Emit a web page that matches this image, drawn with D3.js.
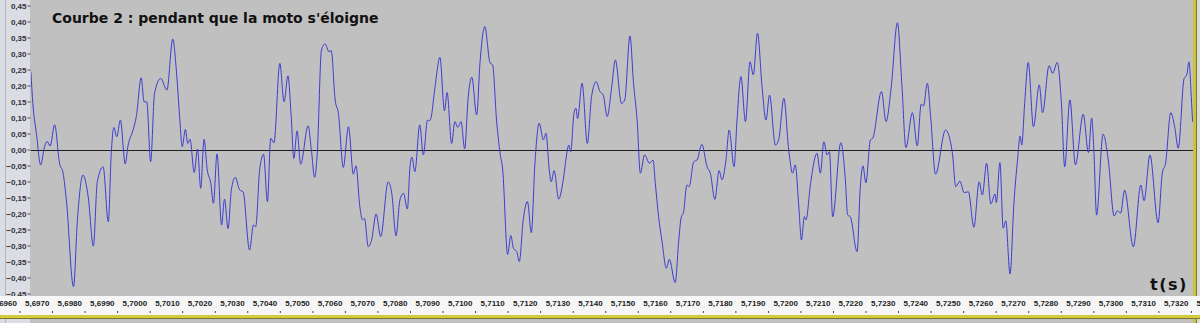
<!DOCTYPE html>
<html>
<head>
<meta charset="utf-8">
<script src="https://cdn.jsdelivr.net/npm/d3@7"></script>
<style>
  html, body { margin: 0; padding: 0; background: #c0c0c0; }
  svg { display: block; }
</style>
</head>
<body>
<svg width="1200" height="323"></svg>
<script>
// sample times (s) and amplitudes
let times = [
  5.69735,5.69741,5.69752,5.69765,5.69777,5.69785,5.69794,5.69808,5.69823,5.69834,
  5.69844,5.69866,5.69878,5.69895,5.69911,5.69927,5.69939,5.69957,5.69973,5.69982,
  5.69990,5.69999,5.70010,5.70025,5.70033,5.70049,5.70059,5.70074,5.70083,5.70091,
  5.70103,5.70115,5.70134,5.70153,5.70171,5.70182,5.70192,5.70200,5.70210,5.70217,
  5.70224,5.70237,5.70247,5.70257,5.70267,5.70277,5.70288,5.70296,5.70307,5.70321,
  5.70330,5.70341,5.70351,5.70363,5.70377,5.70387,5.70407,5.70419,5.70426,5.70438,
  5.70450,5.70462,5.70472,5.70482,5.70500,5.70513,5.70525,5.70535,5.70543,5.70553,
  5.70564,5.70587,5.70597,5.70607,5.70615,5.70628,5.70639,5.70651,5.70658,5.70670,
  5.70680,5.70695,5.70711,5.70726,5.70734,5.70746,5.70754,5.70760,5.70772,5.70782,
  5.70796,5.70810,5.70833,5.70844,5.70857,5.70869,5.70880,5.70892,5.70900,5.70906,
  5.70915,5.70930,5.70941,5.70954,5.70960,5.70964,5.70977,5.70992,5.71006,5.71014,
  5.71028,5.71038,5.71047,5.71057,5.71068,5.71079,5.71090,5.71105,5.71115,5.71130,
  5.71146,5.71154,5.71166,5.71177,5.71185,5.71200,5.71210,5.71218,5.71228,5.71236,
  5.71248,5.71261,5.71273,5.71284,5.71297,5.71310,5.71318,5.71328,5.71334,5.71343,
  5.71357,5.71371,5.71382,5.71388,5.71394,5.71404,5.71410,5.71415,5.71429,5.71445,
  5.71458,5.71472,5.71484,5.71494,5.71506,5.71520,5.71531,5.71550,5.71560,5.71576,
  5.71587,5.71598,5.71608,5.71621,5.71636,5.71647,5.71654,5.71664,5.71674,5.71688,
  5.71697,5.71715,5.71726,5.71733,5.71741,5.71751,5.71758,5.71772,5.71782,5.71797,
  5.71813,5.71823,5.71837,5.71850,5.71859,5.71871,5.71881,5.71896,5.71905,5.71917,
  5.71931,5.71945,5.71955,5.71968,5.71982,5.71994,5.72005,5.72023,5.72033,5.72049,
  5.72064,5.72076,5.72084,5.72095,5.72103,5.72112,5.72117,5.72131,5.72151,5.72161,
  5.72172,5.72182,5.72189,5.72199,5.72224,5.72238,5.72245,5.72253,5.72274,5.72284,
  5.72292,5.72301,5.72315,5.72322,5.72349,5.72363,5.72379,5.72398,5.72412,5.72424,
  5.72444,5.72459,5.72471,5.72478,5.72490,5.72500,5.72515,5.72546,5.72567,5.72577,
  5.72590,5.72603,5.72616,5.72633,5.72649,5.72659,5.72672,5.72685,5.72698,5.72702,
  5.72713,5.72723,5.72731,5.72744,5.72756,5.72767,5.72775,5.72780,5.72789,5.72800,
  5.72816,5.72834,5.72844,5.72864,5.72875,5.72889,5.72902,5.72912,5.72928,5.72945,
  5.72969,5.72985,5.72995,5.73002,5.73010,5.73030,5.73046,5.73064,5.73074,5.73084,
  5.73096,5.73123,5.73146,5.73156,5.73174,5.73199,5.73212,5.73222,5.73238,5.73250,
  5.73261,5.73279,5.73287,5.73294,5.73301,5.73305
];

let amplitudes = [
  0.243,0.144,0.050,-0.048,0.009,0.025,0.011,0.077,-0.043,-0.074,
  -0.158,-0.429,-0.220,-0.080,-0.147,-0.302,-0.101,-0.054,-0.226,-0.012,
  0.069,0.040,0.092,-0.045,0.009,0.061,0.103,0.224,0.149,0.149,
  -0.038,0.176,0.222,0.186,0.345,0.248,0.103,0.009,0.063,0.019,
  0.032,-0.072,0.001,-0.121,0.032,-0.064,-0.106,-0.168,-0.014,-0.236,
  -0.155,-0.247,-0.127,-0.087,-0.127,-0.132,-0.314,-0.236,-0.241,-0.064,
  -0.015,-0.163,0.035,0.021,0.269,0.149,0.230,0.103,-0.028,0.058,
  -0.046,0.074,-0.002,-0.087,-0.012,0.311,0.330,0.306,0.309,0.155,
  0.113,-0.056,0.071,-0.077,-0.051,-0.179,-0.220,-0.215,-0.304,-0.283,
  -0.202,-0.272,-0.101,-0.137,-0.270,-0.158,-0.137,-0.186,-0.054,-0.024,
  -0.069,0.077,-0.017,0.092,0.090,0.096,0.196,0.288,0.121,0.178,
  0.019,0.087,0.069,0.087,0.002,0.165,0.226,0.108,0.269,0.384,
  0.271,0.264,0.092,-0.012,-0.064,-0.328,-0.269,-0.309,-0.319,-0.350,
  -0.220,-0.163,-0.260,-0.043,0.082,0.030,0.051,-0.064,-0.101,-0.066,
  -0.155,-0.095,-0.012,0.014,-0.007,0.113,0.129,0.097,0.207,0.019,
  0.165,0.212,0.181,0.170,0.103,0.196,0.280,0.144,0.155,0.355,
  0.207,0.092,-0.074,-0.017,-0.043,-0.033,-0.106,-0.210,-0.283,-0.371,
  -0.343,-0.416,-0.283,-0.215,-0.194,-0.111,-0.116,-0.038,-0.033,0.016,
  -0.054,-0.074,-0.156,-0.066,-0.095,-0.033,0.061,-0.054,0.092,0.228,
  0.087,0.274,0.233,0.363,0.196,0.092,0.170,0.014,0.030,0.160,
  -0.002,-0.074,-0.048,-0.179,-0.283,-0.210,-0.220,-0.106,-0.012,-0.074,
  0.024,-0.017,-0.007,-0.210,0.021,-0.095,-0.205,-0.210,-0.319,-0.116,
  -0.051,-0.104,0.030,0.035,0.181,0.087,0.196,0.396,0.196,0.006,
  0.115,0.011,0.142,0.136,0.207,0.103,-0.077,0.061,-0.012,-0.116,
  -0.099,-0.135,-0.132,-0.243,-0.101,-0.142,-0.043,-0.170,-0.139,-0.166,
  -0.041,-0.246,-0.223,-0.389,-0.168,-0.033,0.042,0.014,0.144,0.272,
  0.071,0.202,0.115,0.262,0.238,0.272,0.144,-0.054,0.155,-0.048,
  0.110,-0.010,0.098,-0.012,-0.205,0.048,-0.033,-0.208,-0.191,-0.199,
  -0.127,-0.304,-0.111,-0.160,-0.017,-0.229,-0.074,-0.043,0.115,0.071,
  0.004,0.222,0.233,0.274,0.165,0.087
];

let yTicks = [0.45,0.40,0.35,0.30,0.25,0.20,0.15,0.10,0.05,0.00,
              -0.05,-0.10,-0.15,-0.20,-0.25,-0.30,-0.35,-0.40,-0.45];

let xTicks = [5.6960,5.6970,5.6980,5.6990,5.7000,5.7010,5.7020,5.7030,5.7040,5.7050,
              5.7060,5.7070,5.7080,5.7090,5.7100,5.7110,5.7120,5.7130,5.7140,5.7150,
              5.7160,5.7170,5.7180,5.7190,5.7200,5.7210,5.7220,5.7230,5.7240,5.7250,
              5.7260,5.7270,5.7280,5.7290,5.7300,5.7310,5.7320,5.7330];

let title = "Courbe 2 : pendant que la moto s'éloigne";
let xLabel = "t(s)";

let width = 1200;
let height = 323;
let plotLeft = 31;
let plotRight = 1193;
let plotBottom = 295;

let svg = d3.select("svg");
let font = "'Liberation Sans', Arial, sans-serif";
let comma = f => (v => f(v).replace(".", ","));

let xScale = d3.scaleLinear()
               .domain([5.6970, 5.7320])
               .range([19.5, 1158.4]);

let yScale = d3.scaleLinear()
               .domain([-0.45, 0.45])
               .range([293.5, 5.5]);

// panels
svg.append("rect").attr("x", 0).attr("y", 0).attr("width", width).attr("height", height).attr("fill", "#c0c0c0");
svg.append("rect").attr("x", 0).attr("y", 0).attr("width", plotLeft - 1).attr("height", height).attr("fill", "#dcdce4");
svg.append("line").attr("x1", 5.5).attr("x2", 5.5).attr("y1", 0).attr("y2", height)
   .attr("stroke", "#b4b4c8").attr("stroke-width", 1);
svg.append("rect").attr("x", plotRight + 3).attr("y", 0).attr("width", width - plotRight - 3).attr("height", height).attr("fill", "#dadada");
svg.append("rect").attr("x", plotRight).attr("y", 0).attr("width", 3).attr("height", height).attr("fill", "#c8c43c");
svg.append("line").attr("x1", plotRight + 3.5).attr("x2", plotRight + 3.5).attr("y1", 0).attr("y2", height)
   .attr("stroke", "#7a7830");

// y axis
let yAxis = d3.axisLeft(yScale)
              .tickValues(yTicks)
              .tickSize(3)
              .tickSizeOuter(0)
              .tickPadding(1)
              .tickFormat(comma(d3.format(".2f")));

let gy = svg.append("g")
            .attr("transform", "translate(" + (plotLeft - 0.5) + ",0)")
            .call(yAxis);
gy.select(".domain").remove();
gy.selectAll("line").attr("stroke", "#555");
gy.selectAll("text")
  .attr("fill", "#333")
  .style("font-family", font)
  .style("font-size", "8px")
  .style("font-weight", "bold");

// zero line
svg.append("line")
   .attr("x1", plotLeft).attr("x2", plotRight)
   .attr("y1", Math.round(yScale(0)) + 0.5).attr("y2", Math.round(yScale(0)) + 0.5)
   .attr("stroke", "#1e1e1e").attr("stroke-width", 1);

// waveform
svg.append("clipPath").attr("id", "plotClip")
   .append("rect").attr("x", plotLeft).attr("y", 0)
   .attr("width", plotRight - plotLeft).attr("height", plotBottom);

let data = times.map((t, i) => ({t: t, v: amplitudes[i]}));

let line = d3.line()
             .x(d => xScale(d.t))
             .y(d => yScale(d.v))
             .curve(d3.curveMonotoneX);

svg.append("path")
   .datum(data)
   .attr("clip-path", "url(#plotClip)")
   .attr("d", line)
   .attr("fill", "none")
   .attr("stroke", "#3c3cd2")
   .attr("stroke-width", 1);

// time ruler
svg.append("rect").attr("x", 0).attr("y", 296).attr("width", width).attr("height", 19).attr("fill", "#f6f6f6");
svg.append("rect").attr("x", 0).attr("y", 315).attr("width", width).attr("height", 3).attr("fill", "#d2cc3c");
svg.append("line").attr("x1", 0).attr("x2", width).attr("y1", 318.5).attr("y2", 318.5).attr("stroke", "#7a7830");

let xAxis = d3.axisBottom(xScale)
              .tickValues(xTicks)
              .tickSize(2)
              .tickSizeOuter(0)
              .tickFormat(comma(d3.format(".4f")));

let gx = svg.append("g")
            .attr("transform", "translate(0,311)")
            .call(xAxis);
gx.select(".domain").remove();
gx.selectAll("line").attr("stroke", "#444");
gx.selectAll("text")
  .attr("y", -5)
  .attr("dy", 0)
  .attr("x", 5)
  .style("text-anchor", "start")
  .attr("fill", "#222")
  .style("font-family", font)
  .style("font-size", "8px")
  .style("font-weight", "bold");

// title and axis name
svg.append("text")
   .attr("x", 52)
   .attr("y", 23)
   .style("font-family", "'DejaVu Sans', Verdana, sans-serif")
   .style("font-size", "14px")
   .style("font-weight", "bold")
   .attr("fill", "#111")
   .text(title);

svg.append("text")
   .attr("x", 1150)
   .attr("y", 290)
   .style("font-family", "'DejaVu Sans', Verdana, sans-serif")
   .style("font-size", "16px")
   .style("font-weight", "bold")
   .style("letter-spacing", "1.5px")
   .attr("fill", "#111")
   .text(xLabel);
</script>
</body>
</html>
